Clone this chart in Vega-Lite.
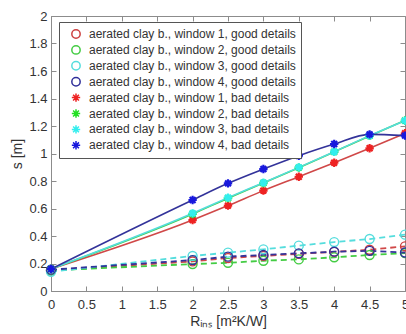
{
  "$schema": "https://vega.github.io/schema/vega-lite/v6.json",
  "width": 354,
  "height": 275,
  "autosize": "none",
  "padding": {"left": 51, "top": 16, "right": 1, "bottom": 43},
  "background": "white",
  "config": {
    "view": {"stroke": "#8c8c8c", "strokeWidth": 1},
    "font": "Liberation Sans",
    "axis": {"grid": false, "domainColor": "#8c8c8c", "tickColor": "#8c8c8c", "labelColor": "#333333", "titleColor": "#333333", "labelFont": "Liberation Sans", "titleFont": "Liberation Sans", "labelFontSize": 13, "titleFontSize": 14, "titleFontWeight": "normal", "tickSize": -5, "labelFlush": false, "labelOverlap": false},
    "legend": {"labelFont": "Liberation Sans", "labelFontSize": 12, "labelColor": "#333333"}
  },
  "datasets": {
    "tbl": [
      {"R":0,"s":0.15,"series":"aerated clay b., window 1, good details","win":"1","type":"good"},
      {"R":2,"s":0.215,"series":"aerated clay b., window 1, good details","win":"1","type":"good"},
      {"R":2.5,"s":0.24,"series":"aerated clay b., window 1, good details","win":"1","type":"good"},
      {"R":3,"s":0.255,"series":"aerated clay b., window 1, good details","win":"1","type":"good"},
      {"R":3.5,"s":0.27,"series":"aerated clay b., window 1, good details","win":"1","type":"good"},
      {"R":4,"s":0.285,"series":"aerated clay b., window 1, good details","win":"1","type":"good"},
      {"R":4.5,"s":0.3,"series":"aerated clay b., window 1, good details","win":"1","type":"good"},
      {"R":5,"s":0.325,"series":"aerated clay b., window 1, good details","win":"1","type":"good"},
      {"R":0,"s":0.15,"series":"aerated clay b., window 2, good details","win":"2","type":"good"},
      {"R":2,"s":0.196,"series":"aerated clay b., window 2, good details","win":"2","type":"good"},
      {"R":2.5,"s":0.205,"series":"aerated clay b., window 2, good details","win":"2","type":"good"},
      {"R":3,"s":0.22,"series":"aerated clay b., window 2, good details","win":"2","type":"good"},
      {"R":3.5,"s":0.23,"series":"aerated clay b., window 2, good details","win":"2","type":"good"},
      {"R":4,"s":0.245,"series":"aerated clay b., window 2, good details","win":"2","type":"good"},
      {"R":4.5,"s":0.262,"series":"aerated clay b., window 2, good details","win":"2","type":"good"},
      {"R":5,"s":0.275,"series":"aerated clay b., window 2, good details","win":"2","type":"good"},
      {"R":0,"s":0.14,"series":"aerated clay b., window 3, good details","win":"3","type":"good"},
      {"R":2,"s":0.255,"series":"aerated clay b., window 3, good details","win":"3","type":"good"},
      {"R":2.5,"s":0.279,"series":"aerated clay b., window 3, good details","win":"3","type":"good"},
      {"R":3,"s":0.303,"series":"aerated clay b., window 3, good details","win":"3","type":"good"},
      {"R":3.5,"s":0.33,"series":"aerated clay b., window 3, good details","win":"3","type":"good"},
      {"R":4,"s":0.356,"series":"aerated clay b., window 3, good details","win":"3","type":"good"},
      {"R":4.5,"s":0.378,"series":"aerated clay b., window 3, good details","win":"3","type":"good"},
      {"R":5,"s":0.41,"series":"aerated clay b., window 3, good details","win":"3","type":"good"},
      {"R":0,"s":0.155,"series":"aerated clay b., window 4, good details","win":"4","type":"good"},
      {"R":2,"s":0.225,"series":"aerated clay b., window 4, good details","win":"4","type":"good"},
      {"R":2.5,"s":0.25,"series":"aerated clay b., window 4, good details","win":"4","type":"good"},
      {"R":3,"s":0.262,"series":"aerated clay b., window 4, good details","win":"4","type":"good"},
      {"R":3.5,"s":0.274,"series":"aerated clay b., window 4, good details","win":"4","type":"good"},
      {"R":4,"s":0.286,"series":"aerated clay b., window 4, good details","win":"4","type":"good"},
      {"R":4.5,"s":0.292,"series":"aerated clay b., window 4, good details","win":"4","type":"good"},
      {"R":5,"s":0.28,"series":"aerated clay b., window 4, good details","win":"4","type":"good"},
      {"R":0,"s":0.16,"series":"aerated clay b., window 1, bad details","win":"1","type":"bad"},
      {"R":2,"s":0.516,"series":"aerated clay b., window 1, bad details","win":"1","type":"bad"},
      {"R":2.5,"s":0.621,"series":"aerated clay b., window 1, bad details","win":"1","type":"bad"},
      {"R":3,"s":0.73,"series":"aerated clay b., window 1, bad details","win":"1","type":"bad"},
      {"R":3.5,"s":0.831,"series":"aerated clay b., window 1, bad details","win":"1","type":"bad"},
      {"R":4,"s":0.933,"series":"aerated clay b., window 1, bad details","win":"1","type":"bad"},
      {"R":4.5,"s":1.038,"series":"aerated clay b., window 1, bad details","win":"1","type":"bad"},
      {"R":5,"s":1.147,"series":"aerated clay b., window 1, bad details","win":"1","type":"bad"},
      {"R":0,"s":0.16,"series":"aerated clay b., window 2, bad details","win":"2","type":"bad"},
      {"R":2,"s":0.56,"series":"aerated clay b., window 2, bad details","win":"2","type":"bad"},
      {"R":2.5,"s":0.675,"series":"aerated clay b., window 2, bad details","win":"2","type":"bad"},
      {"R":3,"s":0.785,"series":"aerated clay b., window 2, bad details","win":"2","type":"bad"},
      {"R":3.5,"s":0.897,"series":"aerated clay b., window 2, bad details","win":"2","type":"bad"},
      {"R":4,"s":1.012,"series":"aerated clay b., window 2, bad details","win":"2","type":"bad"},
      {"R":4.5,"s":1.128,"series":"aerated clay b., window 2, bad details","win":"2","type":"bad"},
      {"R":5,"s":1.24,"series":"aerated clay b., window 2, bad details","win":"2","type":"bad"},
      {"R":0,"s":0.16,"series":"aerated clay b., window 3, bad details","win":"3","type":"bad"},
      {"R":2,"s":0.565,"series":"aerated clay b., window 3, bad details","win":"3","type":"bad"},
      {"R":2.5,"s":0.679,"series":"aerated clay b., window 3, bad details","win":"3","type":"bad"},
      {"R":3,"s":0.788,"series":"aerated clay b., window 3, bad details","win":"3","type":"bad"},
      {"R":3.5,"s":0.899,"series":"aerated clay b., window 3, bad details","win":"3","type":"bad"},
      {"R":4,"s":1.013,"series":"aerated clay b., window 3, bad details","win":"3","type":"bad"},
      {"R":4.5,"s":1.13,"series":"aerated clay b., window 3, bad details","win":"3","type":"bad"},
      {"R":5,"s":1.239,"series":"aerated clay b., window 3, bad details","win":"3","type":"bad"},
      {"R":0,"s":0.16,"series":"aerated clay b., window 4, bad details","win":"4","type":"bad"},
      {"R":2,"s":0.662,"series":"aerated clay b., window 4, bad details","win":"4","type":"bad"},
      {"R":2.5,"s":0.783,"series":"aerated clay b., window 4, bad details","win":"4","type":"bad"},
      {"R":3,"s":0.887,"series":"aerated clay b., window 4, bad details","win":"4","type":"bad"},
      {"R":3.5,"s":0.984,"series":"aerated clay b., window 4, bad details","win":"4","type":"bad"},
      {"R":4,"s":1.069,"series":"aerated clay b., window 4, bad details","win":"4","type":"bad"},
      {"R":4.5,"s":1.139,"series":"aerated clay b., window 4, bad details","win":"4","type":"bad"},
      {"R":5,"s":1.13,"series":"aerated clay b., window 4, bad details","win":"4","type":"bad"}
    ]
  },
  "data": {"name": "tbl"},
  "resolve": {"axis": {"x": "independent", "y": "independent"}},
  "layer": [
    {
      "transform": [{"filter": "datum.type === 'good'"}],
      "mark": {"type": "line", "strokeDash": [6, 4], "strokeWidth": 1.8},
      "encoding": {
        "x": {"field": "R", "type": "quantitative", "scale": {"domain": [0, 5], "nice": false}, "axis": null},
        "y": {"field": "s", "type": "quantitative", "scale": {"domain": [0, 2], "nice": false}, "axis": null},
        "detail": {"field": "win"},
        "stroke": {"field": "win", "type": "nominal", "legend": null, "scale": {"domain": ["1", "2", "3", "4"], "range": ["#d04848", "#44cc44", "#55dddd", "#33339a"]}}
      }
    },
    {
      "transform": [{"filter": "datum.type === 'bad'"}],
      "mark": {"type": "line", "strokeWidth": 1.6, "interpolate": "monotone"},
      "encoding": {
        "x": {"field": "R", "type": "quantitative", "scale": {"domain": [0, 5], "nice": false}, "axis": null},
        "y": {"field": "s", "type": "quantitative", "scale": {"domain": [0, 2], "nice": false}, "axis": null},
        "detail": {"field": "win"},
        "stroke": {"field": "win", "type": "nominal", "legend": null}
      }
    },
    {
      "transform": [{"filter": "datum.type === 'good'"}],
      "mark": {"type": "point", "filled": false, "strokeWidth": 1.4, "size": 80, "opacity": 1},
      "encoding": {
        "x": {"field": "R", "type": "quantitative", "scale": {"domain": [0, 5], "nice": false},
          "axis": {"orient": "bottom", "values": [0, 0.5, 1, 1.5, 2, 2.5, 3, 3.5, 4, 4.5, 5], "format": "~g", "labelPadding": 12, "title": "Rᵢₙₛ [m²K/W]", "titlePadding": 3}},
        "y": {"field": "s", "type": "quantitative", "scale": {"domain": [0, 2], "nice": false},
          "axis": {"orient": "left", "values": [0, 0.2, 0.4, 0.6, 0.8, 1, 1.2, 1.4, 1.6, 1.8, 2], "format": "~g", "labelPadding": 9, "title": "s [m]", "titlePadding": 4}},
        "color": {"field": "series", "type": "nominal",
          "scale": {
            "domain": ["aerated clay b., window 1, good details", "aerated clay b., window 2, good details", "aerated clay b., window 3, good details", "aerated clay b., window 4, good details", "aerated clay b., window 1, bad details", "aerated clay b., window 2, bad details", "aerated clay b., window 3, bad details", "aerated clay b., window 4, bad details"],
            "range": ["#cc4040", "#44cc44", "#55dddd", "#30309a", "#ee2222", "#22e022", "#33eeee", "#1818dd"]
          },
          "legend": {"title": null, "orient": "none", "legendX": 8, "legendY": 6, "padding": 5, "symbolOffset": 6, "rowPadding": 1.9, "clipHeight": 14, "labelOffset": 7, "symbolSize": 70, "symbolStrokeWidth": 1.5, "fillColor": "white", "strokeColor": "#555555", "labelLimit": 400}
        },
        "shape": {"field": "series", "type": "nominal",
          "scale": {
            "domain": ["aerated clay b., window 1, good details", "aerated clay b., window 2, good details", "aerated clay b., window 3, good details", "aerated clay b., window 4, good details", "aerated clay b., window 1, bad details", "aerated clay b., window 2, bad details", "aerated clay b., window 3, bad details", "aerated clay b., window 4, bad details"],
            "range": ["circle", "circle", "circle", "circle", "M-1,0L1,0M0,-1L0,1M-0.7,-0.7L0.7,0.7M-0.7,0.7L0.7,-0.7", "M-1,0L1,0M0,-1L0,1M-0.7,-0.7L0.7,0.7M-0.7,0.7L0.7,-0.7", "M-1,0L1,0M0,-1L0,1M-0.7,-0.7L0.7,0.7M-0.7,0.7L0.7,-0.7", "M-1,0L1,0M0,-1L0,1M-0.7,-0.7L0.7,0.7M-0.7,0.7L0.7,-0.7"]
          },
          "legend": {"title": null, "orient": "none", "legendX": 8, "legendY": 6, "padding": 5, "symbolOffset": 6, "rowPadding": 1.9, "clipHeight": 14, "labelOffset": 7, "symbolSize": 70, "symbolStrokeWidth": 1.5, "fillColor": "white", "strokeColor": "#555555", "labelLimit": 400}
        }
      }
    },
    {
      "transform": [{"filter": "datum.type === 'bad'"}],
      "mark": {"type": "point", "filled": false, "strokeWidth": 2.2, "size": 70, "opacity": 1},
      "encoding": {
        "x": {"field": "R", "type": "quantitative", "scale": {"domain": [0, 5], "nice": false}, "axis": null},
        "y": {"field": "s", "type": "quantitative", "scale": {"domain": [0, 2], "nice": false}, "axis": null},
        "color": {"field": "series", "type": "nominal"},
        "shape": {"field": "series", "type": "nominal"}
      }
    },
    {
      "mark": {"type": "point", "opacity": 0},
      "encoding": {
        "x": {"field": "R", "type": "quantitative", "scale": {"domain": [0, 5], "nice": false},
          "axis": {"orient": "top", "values": [0, 0.5, 1, 1.5, 2, 2.5, 3, 3.5, 4, 4.5, 5], "labels": false, "title": null, "domain": false}},
        "y": {"field": "s", "type": "quantitative", "scale": {"domain": [0, 2], "nice": false},
          "axis": {"orient": "right", "values": [0, 0.2, 0.4, 0.6, 0.8, 1, 1.2, 1.4, 1.6, 1.8, 2], "labels": false, "title": null, "domain": false}}
      }
    }
  ]
}
